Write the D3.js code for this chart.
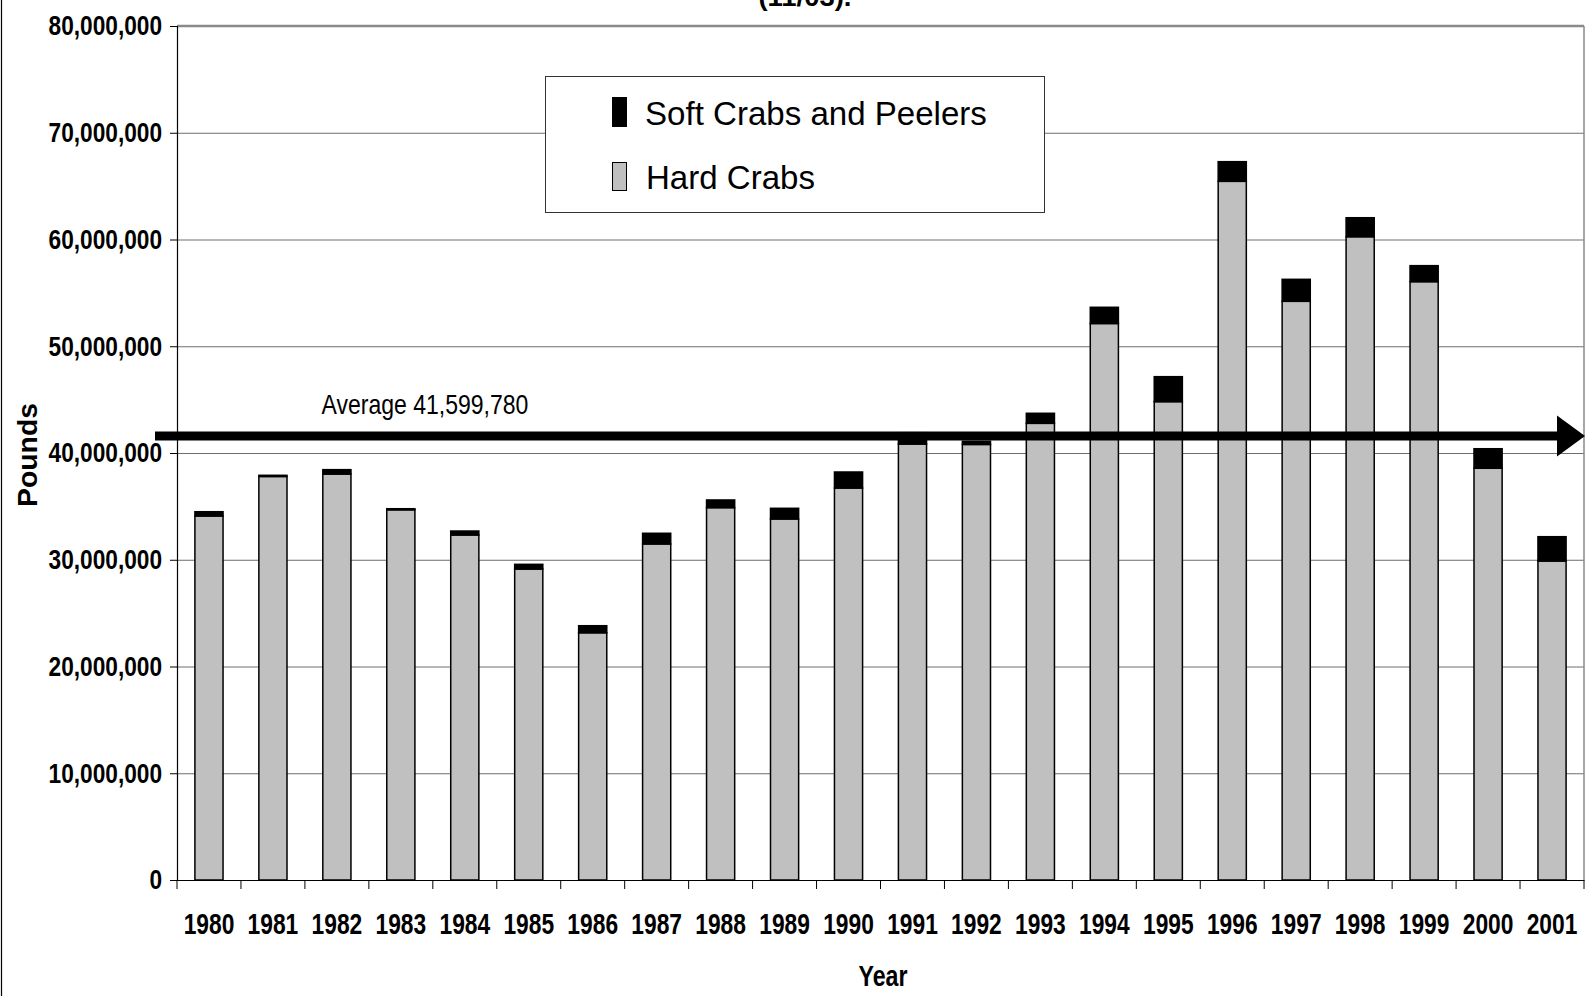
<!DOCTYPE html>
<html>
<head>
<meta charset="utf-8">
<script src="https://cdn.jsdelivr.net/npm/d3@7"></script>
<style>
  html, body { margin: 0; padding: 0; background: #fff; }
  svg { display: block; font-family: "Liberation Sans", Arial, sans-serif; }
</style>
</head>
<body>
<svg id="chart" width="1585" height="996"></svg>
<script>
// Maryland blue crab landings by year (pounds)
const years = ["1980","1981","1982","1983","1984","1985","1986","1987","1988","1989","1990",
               "1991","1992","1993","1994","1995","1996","1997","1998","1999","2000","2001"];
const hardCrabs = [34100000, 37800000, 38030000, 34680000, 32320000, 29130000, 23160000, 31480000,
                   34880000, 33820000, 36720000, 40840000, 40800000, 42780000, 52130000, 44810000,
                   65450000, 54210000, 60260000, 56050000, 38570000, 29880000];
const softCrabs = [400000, 110000, 410000, 100000, 370000, 440000, 660000, 1000000,
                   720000, 1000000, 1500000, 1060000, 300000, 940000, 1520000, 2340000,
                   1840000, 2060000, 1780000, 1500000, 1830000, 2280000];
const yTicks = [0, 10000000, 20000000, 30000000, 40000000, 50000000, 60000000, 70000000, 80000000];
const averagePounds = 41599780;
const seriesNames = ["Soft Crabs and Peelers", "Hard Crabs"];
const seriesColors = { hard: "#c0c0c0", soft: "#000000" };

const svg = d3.select("#chart");
const margin = { left: 177, top: 26, right: 1, bottom: 116 };
const W = 1585 - margin.left - margin.right;
const H = 996 - margin.top - margin.bottom;

// narrow a text horizontally around its anchor point by factor k
function condense(sel, k) {
  sel.each(function () {
    const tx = +this.getAttribute("x") || 0;
    const ty = +this.getAttribute("y") || 0;
    this.setAttribute("transform",
      `translate(${tx},${ty}) scale(${k},1) translate(${-tx},${-ty})`);
  });
}
// narrow a text so that it spans width w
function condenseTo(sel, w) {
  sel.each(function () {
    const k = w / this.getComputedTextLength();
    condense(d3.select(this), k);
  });
}

// outer frame line on the left
svg.append("line").attr("x1", 1.5).attr("x2", 1.5).attr("y1", 0).attr("y2", 996)
  .attr("stroke", "#000").attr("stroke-width", 1.2);

// title (only its last line falls inside the frame)
svg.append("text").attr("x", 805).attr("y", 6).attr("text-anchor", "middle")
  .attr("font-size", 26).attr("font-weight", "bold").text("(11/03).")
  .call(condenseTo, 93);

const g = svg.append("g").attr("transform", `translate(${margin.left},${margin.top})`);

const x = d3.scaleBand().domain(years).range([0, W]).paddingInner(0.56).paddingOuter(0.28);
const y = d3.scaleLinear().domain([0, 80000000]).range([H, 0]);

// gridlines
g.append("g").attr("class", "grid")
  .call(d3.axisLeft(y).tickValues(yTicks.slice(1)).tickSize(-W).tickFormat(""))
  .call(s => s.select(".domain").remove())
  .call(s => s.selectAll("line").attr("stroke", "#6e6e6e").attr("stroke-width", 1));

// plot frame top / right
g.append("line").attr("x1", 0).attr("x2", W).attr("y1", y(80000000)).attr("y2", y(80000000))
  .attr("stroke", "#8a8a8a").attr("stroke-width", 2.5);
g.append("line").attr("x1", W).attr("x2", W).attr("y1", y(80000000)).attr("y2", H)
  .attr("stroke", "#8a8a8a").attr("stroke-width", 1.5);

// stacked bars
const rows = years.map((yr, i) => ({ year: yr, hard: hardCrabs[i], soft: softCrabs[i] }));
const stacked = d3.stack().keys(["hard", "soft"])(rows);

g.append("g").selectAll("g").data(stacked).join("g")
  .attr("fill", d => seriesColors[d.key])
  .selectAll("rect").data(d => d).join("rect")
  .attr("x", d => x(d.data.year))
  .attr("width", x.bandwidth())
  .attr("y", d => y(d[1]))
  .attr("height", d => y(d[0]) - y(d[1]))
  .attr("stroke", "#000").attr("stroke-width", 1.5);

// y axis
const yAxis = g.append("g")
  .call(d3.axisLeft(y).tickValues(yTicks).tickFormat(d3.format(",")).tickSize(7).tickPadding(8));
yAxis.select(".domain").attr("stroke", "#000").attr("stroke-width", 1.2);
yAxis.selectAll("line").attr("stroke", "#000");
yAxis.selectAll("text").attr("font-size", 28).attr("font-weight", "bold")
  .attr("font-family", "Liberation Sans, Arial, sans-serif").attr("fill", "#000")
  .call(condense, 0.81);

// x axis: labels centered on bands, ticks between categories
const xAxis = g.append("g").attr("transform", `translate(0,${H})`)
  .call(d3.axisBottom(x).tickSize(0).tickPadding(33).tickSizeOuter(0));
xAxis.select(".domain").attr("stroke", "#000").attr("stroke-width", 1.2);
xAxis.selectAll("text").attr("font-size", 30).attr("font-weight", "bold")
  .attr("font-family", "Liberation Sans, Arial, sans-serif").attr("fill", "#000")
  .call(condense, 0.76);

const edge = x.step() * x.paddingOuter();
const bounds = years.map(d => x(d) - edge).concat([x(years[years.length - 1]) - edge + x.step()]);
g.append("g").selectAll("line").data(bounds).join("line")
  .attr("x1", d => d).attr("x2", d => d).attr("y1", H).attr("y2", H + 9)
  .attr("stroke", "#000").attr("stroke-width", 1);

// average arrow
const avgY = y(averagePounds);
g.append("line").attr("x1", -22).attr("x2", W - 25).attr("y1", avgY).attr("y2", avgY)
  .attr("stroke", "#000").attr("stroke-width", 9);
g.append("path")
  .attr("d", `M${W - 27},${avgY - 20.5}L${W + 1},${avgY}L${W - 27},${avgY + 20.5}Z`)
  .attr("fill", "#000");
g.append("text").attr("x", 321.5 - margin.left).attr("y", avgY - 22)
  .attr("font-size", 28)
  .text("Average " + d3.format(",")(averagePounds))
  .call(condenseTo, 207);

// axis titles
const pounds = svg.append("text").attr("text-anchor", "middle")
  .attr("font-size", 27).attr("font-weight", "bold").text("Pounds");
const pk = 104 / pounds.node().getComputedTextLength();
pounds.attr("transform", `translate(37,455) rotate(-90) scale(${pk},1)`);

svg.append("text").attr("x", 883).attr("y", 986).attr("text-anchor", "middle")
  .attr("font-size", 29).attr("font-weight", "bold").text("Year")
  .call(condenseTo, 49);

// legend
const lg = svg.append("g");
lg.append("rect").attr("x", 545.5).attr("y", 76.5).attr("width", 499).attr("height", 136)
  .attr("fill", "#fff").attr("stroke", "#333").attr("stroke-width", 1);
lg.append("rect").attr("x", 612.5).attr("y", 97.5).attr("width", 14).attr("height", 29)
  .attr("fill", seriesColors.soft).attr("stroke", "#000");
lg.append("rect").attr("x", 612.5).attr("y", 162.5).attr("width", 14).attr("height", 28)
  .attr("fill", seriesColors.hard).attr("stroke", "#000");
lg.append("text").attr("x", 645).attr("y", 125).attr("font-size", 34).text(seriesNames[0])
  .call(condenseTo, 342);
lg.append("text").attr("x", 646).attr("y", 189).attr("font-size", 34).text(seriesNames[1])
  .call(condenseTo, 169);
</script>
</body>
</html>
